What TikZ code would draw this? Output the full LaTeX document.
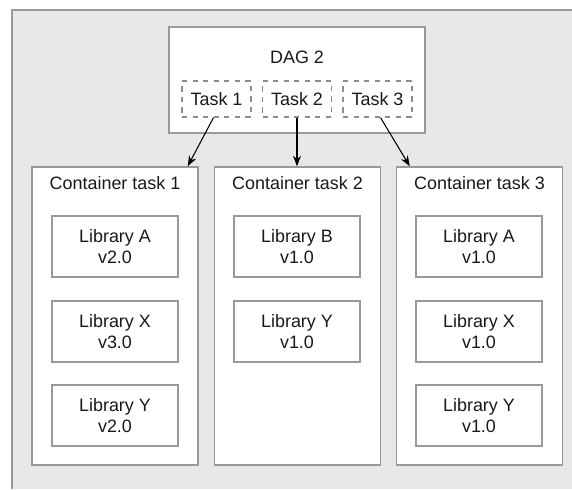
\documentclass[tikz,border=0pt]{standalone}
\usepackage{fontspec}
\setmainfont{Liberation Sans}
\usetikzlibrary{arrows.meta,positioning}
\newcommand{\lblsize}{\fontsize{10.2}{12.3}\selectfont}

\begin{document}
\begin{tikzpicture}[
  box/.style={draw=black!40, fill=white, line width=0.8pt},
  dagbox/.style={box, minimum width=5.12cm, minimum height=2.12cm},
  container/.style={box, minimum width=3.32cm, minimum height=5.96cm},
  libbox/.style={box, minimum width=2.52cm, minimum height=1.22cm, inner sep=0pt,
                 align=center, font=\lblsize, text=black!90},
  taskbox/.style={draw=black!45, dashed, line width=0.7pt, fill=white, inner sep=0pt,
                  minimum width=1.38cm, minimum height=0.72cm, font=\lblsize, text=black!90},
  flow/.style={-{Stealth[length=6pt,width=4.5pt]}, line width=0.6pt},
  lbl/.style={font=\lblsize, text=black!90}
]
\useasboundingbox (0,0) rectangle (11.44,-9.78);

% === Background panel ===
\fill[black!9] (0.24,-0.2) rectangle (11.44,-9.78);
\draw[black!40, line width=1pt] (0.24,-9.78) -- (0.24,-0.2) -- (11.44,-0.2);

% === DAG with its tasks ===
\node[dagbox] (dag) at (5.94,-1.60) {};
\node[lbl] (dagname) at (5.94,-1.14) {DAG 2};
\node[taskbox] (t1) at (4.33,-1.98) {Task 1};
\node[taskbox] (t2) at (5.94,-1.98) {Task 2};
\node[taskbox] (t3) at (7.55,-1.98) {Task 3};

% === Containers ===
\node[container] (c1) at (2.30,-6.32) {};
\node[container] (c2) at (5.95,-6.32) {};
\node[container] (c3) at (9.59,-6.32) {};
\node[lbl] (c1name) at (2.30,-3.66) {Container task 1};
\node[lbl] (c2name) at (5.95,-3.66) {Container task 2};
\node[lbl] (c3name) at (9.59,-3.66) {Container task 3};

% Libraries per container
\node[libbox] (c1a) at (2.30,-4.93) {Library A\\v2.0};
\node[libbox] (c1x) at (2.30,-6.63) {Library X\\v3.0};
\node[libbox] (c1y) at (2.30,-8.31) {Library Y\\v2.0};

\node[libbox] (c2b) at (5.94,-4.93) {Library B\\v1.0};
\node[libbox] (c2y) at (5.94,-6.63) {Library Y\\v1.0};

\node[libbox] (c3a) at (9.58,-4.93) {Library A\\v1.0};
\node[libbox] (c3x) at (9.58,-6.63) {Library X\\v1.0};
\node[libbox] (c3y) at (9.58,-8.31) {Library Y\\v1.0};

% Task -> container
\coordinate (c1in) at ([xshift=-0.22cm]c1.north east);
\coordinate (c3in) at ([xshift=0.28cm]c3.north west);
\draw[flow] ([xshift=-0.06cm]t1.south) -- (c1in);
\draw[flow] (t2.south) -- (t2.south |- c2.north);
\draw[flow] ([xshift=0.06cm]t3.south) -- (c3in);

\end{tikzpicture}
\end{document}
